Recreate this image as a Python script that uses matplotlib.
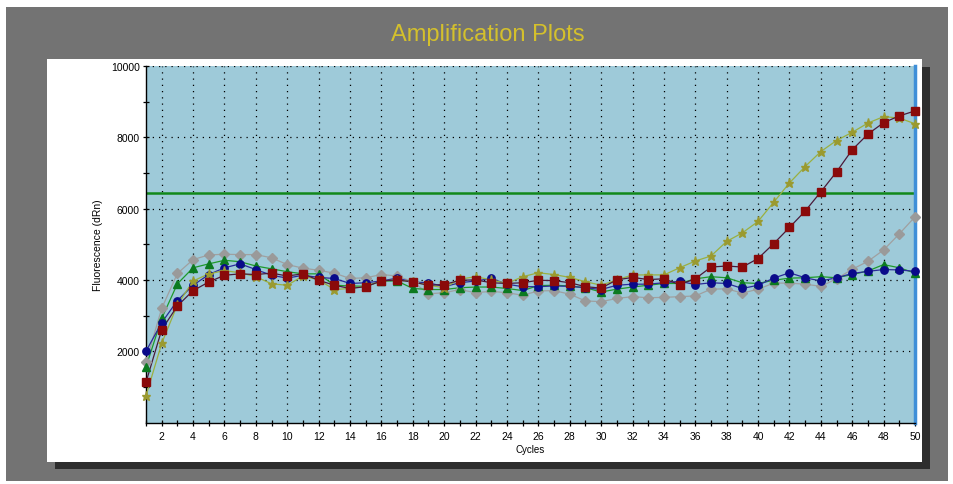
import numpy as np
import matplotlib
matplotlib.use("Agg")
from matplotlib import pyplot as plt
from matplotlib.patches import Rectangle

# cycles 1..50
cycles = list(range(1, 51))

blue = [2000, 2800, 3420, 3850, 4150, 4340, 4450, 4290, 4130, 4050,
        4130, 4070, 4040, 3900, 3920, 3970, 4050, 3940, 3920, 3810,
        3920, 3970, 4040, 3880, 3810, 3810, 3830, 3820, 3780, 3730,
        3850, 3880, 3880, 3920, 3960, 3870, 3920, 3900, 3760, 3850,
        4050, 4200, 4060, 3970, 4060, 4180, 4240, 4290, 4280, 4240]

red = [1130, 2600, 3270, 3700, 3940, 4130, 4170, 4150, 4190, 4110,
       4170, 3990, 3850, 3760, 3810, 3970, 4000, 3940, 3850, 3870,
       3990, 4000, 3920, 3900, 3920, 3990, 3980, 3920, 3810, 3770,
       4000, 4070, 4010, 4030, 3870, 4030, 4360, 4390, 4360, 4600,
       5020, 5470, 5930, 6470, 7030, 7650, 8090, 8410, 8600, 8740]

green = [1560, 2920, 3890, 4340, 4450, 4550, 4510, 4390, 4310, 4230,
         4170, 4170, 3850, 3830, 3820, 3970, 3970, 3760, 3730, 3730,
         3780, 3800, 3800, 3760, 3700, 3840, 3850, 3830, 3780, 3660,
         3740, 3800, 3850, 3900, 3900, 4030, 4090, 4060, 3920, 3900,
         3990, 4050, 4060, 4090, 4060, 4150, 4250, 4430, 4340, 4190]

gray = [1690, 3200, 4180, 4570, 4700, 4720, 4710, 4710, 4620, 4430,
        4330, 4270, 4190, 4040, 4060, 4150, 4110, 3950, 3610, 3640,
        3730, 3640, 3680, 3640, 3570, 3690, 3700, 3600, 3410, 3390,
        3480, 3530, 3500, 3510, 3530, 3550, 3740, 3750, 3630, 3740,
        3910, 3910, 3880, 3820, 4030, 4300, 4520, 4840, 5290, 5770]

olive = [750, 2220, 3300, 3970, 4170, 4260, 4200, 4090, 3890, 3850,
         4110, 4000, 3730, 3760, 3820, 3970, 4000, 3950, 3850, 3780,
         4020, 4090, 4000, 3900, 4090, 4200, 4150, 4070, 3950, 3850,
         4000, 4140, 4140, 4140, 4340, 4530, 4670, 5080, 5320, 5640,
         6180, 6720, 7180, 7600, 7910, 8140, 8400, 8580, 8540, 8380]

threshold = 6430

fig = plt.figure(figsize=(9.54, 4.85), dpi=100)
fig.patch.set_facecolor('white')

# gray window background, white panel and its shadow (figure pixel coords)
W, H = 954, 485
def box(x0, y0, x1, y1, **kw):
    fig.patches.append(Rectangle((x0 / W, 1 - y1 / H), (x1 - x0) / W, (y1 - y0) / H,
                                 transform=fig.transFigure, zorder=-5, **kw))

box(6, 8, 948, 482, facecolor='#737373', edgecolor='none')
box(55, 68, 930, 470, facecolor='#2e2e2e', edgecolor='none')
box(47, 60, 922, 463, facecolor='white', edgecolor='none')

fig.text(488 / W, 1 - 35 / H, 'Amplification Plots', ha='center', va='center',
         fontsize=17, color='#d4c02c', family='Liberation Sans')

ax = fig.add_axes([146 / W, 1 - 423.5 / H, 769 / W, 356.5 / H])
ax.set_zorder(2)
ax.set_facecolor('#9ecad9')

ax.axhline(threshold, color='#12881a', lw=1.8, zorder=2)

series = [
    (gray, '#9a9a9a', '#a0a0a0', 'D', 5.2),
    (green, '#0c7a20', '#1e9a2a', '^', 5.5),
    (blue, '#0a0a8a', '#2a2a9a', 'o', 5.3),
    (olive, '#9a9a30', '#9ab040', '*', 6.5),
    (red, '#8a0a0a', '#4a1a3a', 's', 5.5),
]
for vals, mcol, lcol, mk, ms in series:
    ax.plot(cycles, vals, color=lcol, lw=0.9, zorder=3, clip_on=False)
    ax.plot(cycles, vals, ls='none', marker=mk, ms=ms, mfc=mcol, mec=mcol,
            zorder=4, clip_on=False)

ax.set_xlim(1, 50)
ax.set_ylim(0, 10000)
ax.set_xticks(np.arange(2, 51, 2))
ax.set_xticks(np.arange(1, 51, 2), minor=True)
ax.set_yticks([2000, 4000, 6000, 8000, 10000])
ax.set_yticks([1000, 3000, 5000, 7000, 9000], minor=True)
ax.tick_params(which='both', direction='inout', length=5, width=0.9,
               labelsize=7.5, color='black')
ax.tick_params(axis='y', pad=2)
for lab in ax.get_xticklabels() + ax.get_yticklabels():
    lab.set_family('Liberation Sans')

ax.grid(True, which='major', color='black', ls=(0, (1, 4)), lw=0.9)

ax.spines['top'].set_visible(False)
ax.spines['right'].set_color('#3f8fd8')
ax.spines['right'].set_linewidth(2.5)
ax.spines['left'].set_linewidth(1)
ax.spines['bottom'].set_linewidth(1)

ax.set_xlabel('Cycles', fontsize=7, family='Liberation Sans', labelpad=2)
ax.set_ylabel('Fluorescence (dRn)', fontsize=7.5, family='Liberation Sans', labelpad=6)

fig.savefig('out.png', dpi=100)
